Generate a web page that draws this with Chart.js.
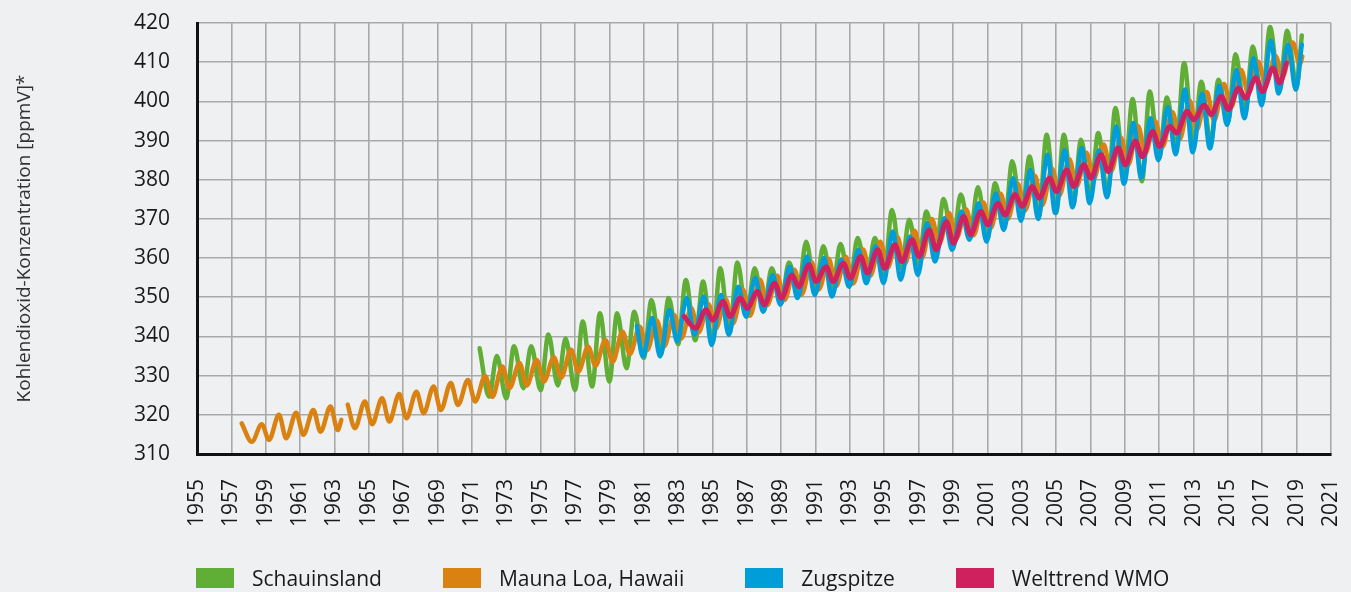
<!DOCTYPE html>
<html lang="de">
  <head>
    <meta charset="UTF-8" />
    <title>Kohlendioxid-Konzentration</title>
    <script src="https://cdn.jsdelivr.net/npm/chart.js@4"></script>
    <style>
      body { margin: 0; background: #eff0f2; }
      .wrap { position: relative; width: 1351px; height: 592px; background: #eff0f2; }
      #co2Chart { position: absolute; left: 0; top: 0; }
      .legend {
        position: absolute; left: 196px; top: 567px;
        display: flex; font: 21px "Open Sans", sans-serif; color: #1a1a1a;
      }
      .legend .item { display: flex; align-items: center; margin-right: 61px; height: 22px; }
      .legend .box { width: 38px; height: 20px; margin-right: 18px; }
    </style>
  </head>
  <body>
    <div class="wrap">
      <canvas id="co2Chart" width="1351" height="592"></canvas>
      <div class="legend" id="legend"></div>
    </div>

    <script>
      // x-axis tick labels (every second year)
      const tickYears = [];
      for (let y = 1955; y <= 2021; y += 2) tickYears.push(y);

      // Schauinsland: seasonal lows / highs per year, first and last reading
      const sYears = [1972,1973,1974,1975,1976,1977,1978,1979,1980,1981,1982,1983,1984,1985,1986,1987,1988,1989,1990,1991,1992,1993,1994,1995,1996,1997,1998,1999,2000,2001,2002,2003,2004,2005,2006,2007,2008,2009,2010,2011,2012,2013,2014,2015,2016,2017,2018,2019];
      const sLow = [324.6,324.2,326.8,326.3,327.5,326.3,327.2,328.5,331.9,334.5,335.5,338.0,339.0,338.5,341.0,345.0,347.0,348.5,351.5,352.0,352.5,353.6,355.0,356.0,357.5,358.5,361.5,364.0,366.0,365.0,368.9,370.6,370.6,371.5,373.6,375.7,376.2,381.3,379.6,385.5,388.0,389.0,389.5,395.0,397.0,400.0,403.0,404.0];
      const sHigh = [335.0,337.5,337.5,340.5,339.5,343.8,345.9,345.9,346.3,349.3,349.8,354.4,354.0,357.4,358.9,357.4,357.4,358.9,364.2,363.0,363.6,365.1,365.1,372.3,369.8,371.9,375.1,376.2,378.1,379.1,384.7,385.9,391.5,391.5,390.2,391.9,398.3,400.6,402.5,401.0,409.8,405.0,405.5,412.0,414.0,419.0,418.0];
      const sFirst = [1971.45, 337.0];
      const sLast = [2019.3, 416.8];

      // Mauna Loa, Hawaii
      const mlYears = [1958,1959,1960,1961,1962,1963,1964,1965,1966,1967,1968,1969,1970,1971,1972,1973,1974,1975,1976,1977,1978,1979,1980,1981,1982,1983,1984,1985,1986,1987,1988,1989,1990,1991,1992,1993,1994,1995,1996,1997,1998,1999,2000,2001,2002,2003,2004,2005,2006,2007,2008,2009,2010,2011,2012,2013,2014,2015,2016,2017,2018,2019];
      const mlLow = [313.1,313.6,314.0,314.9,315.7,316.1,316.6,317.6,318.3,319.1,320.4,321.2,322.5,323.4,324.6,326.8,327.5,328.5,329.5,331.0,332.5,333.5,335.5,336.5,337.5,339.5,341.0,342.0,343.3,345.3,348.0,349.3,350.7,352.0,352.8,353.5,355.5,357.5,358.5,360.0,363.6,365.0,365.8,367.7,370.0,372.2,373.5,376.0,378.3,380.2,382.1,383.7,386.7,388.4,390.3,392.8,395.1,398.5,402.0,404.2,406.4,409.4];
      const mlHigh = [317.6,320.0,320.5,321.2,322.1,322.6,323.4,324.2,325.3,325.9,327.2,328.1,328.9,329.9,332.3,333.2,334.0,334.7,336.6,337.4,339.1,341.2,342.5,344.0,345.5,347.2,348.2,349.5,352.0,354.5,355.5,357.0,359.0,359.8,360.3,362.2,364.2,365.3,367.0,370.0,371.5,372.4,374.2,376.4,379.0,381.0,382.8,385.3,386.9,389.0,390.8,393.7,394.9,397.3,400.2,402.4,404.4,408.0,410.1,411.6,415.0];
      const mlFirst = [1957.6, 317.8];
      const mlLast = [2019.33, 411.5];
      const mlBreak = [[1963.4, 318.7], [1963.55, null]];

      // Zugspitze
      const zYears = [1981,1982,1983,1984,1985,1986,1987,1988,1989,1990,1991,1992,1993,1994,1995,1996,1997,1998,1999,2000,2001,2002,2003,2004,2005,2006,2007,2008,2009,2010,2011,2012,2013,2014,2015,2016,2017,2018,2019];
      const zLow = [334.9,334.9,338.7,340.4,337.8,340.4,345.1,346.3,348.1,349.8,350.6,350.2,352.7,353.6,353.6,354.5,355.7,359.1,362.1,364.7,364.2,367.2,369.5,370.0,371.5,373.0,374.0,375.5,379.0,380.5,385.0,386.5,387.0,388.0,394.0,395.7,399.0,402.0,403.0];
      const zHigh = [344.7,346.8,349.8,350.2,350.6,352.7,354.9,355.7,357.8,360.4,360.0,359.6,362.1,363.0,366.8,365.5,368.9,370.2,371.9,374.0,376.5,380.4,382.5,386.4,387.5,388.1,387.5,393.6,394.5,395.7,398.5,403.0,402.0,404.0,408.0,411.0,415.5,414.5];
      const zFirst = [1980.6, 342.7];
      const zLast = [2019.3, 414.5];

      // Welttrend WMO
      const wYears = [1984,1985,1986,1987,1988,1989,1990,1991,1992,1993,1994,1995,1996,1997,1998,1999,2000,2001,2002,2003,2004,2005,2006,2007,2008,2009,2010,2011,2012,2013,2014,2015,2016,2017,2018];
      const wLow = [342.1,344.2,345.1,347.2,348.1,349.8,352.7,354.0,354.0,354.9,356.2,357.4,359.1,360.4,362.1,363.8,366.0,368.5,371.0,373.2,375.3,377.0,378.3,380.4,382.1,383.8,385.9,388.5,391.9,395.3,396.6,397.9,400.8,402.5,404.7];
      const wHigh = [346.8,348.9,349.8,351.5,353.6,355.7,358.3,357.8,358.7,360.4,362.1,363.4,364.7,367.2,369.3,370.6,371.9,374.0,376.2,378.3,380.4,382.5,383.8,386.4,388.1,389.8,392.3,393.6,397.4,399.1,401.3,403.4,406.0,408.5];
      const wFirst = [1983.35, 345.1];
      const wLast = [2018.4, 409.8];

      // time of year of the seasonal low / high for each station
      const phase = {
        s: [0.0, 0.45],
        ml: [0.19, 0.77],
        z: [-0.05, 0.5],
        w: [0.02, 0.62],
      };

      function seasonal(years, lows, highs, ph, first, last, extra = []) {
        const pts = [{ x: first[0], y: first[1] }];
        years.forEach((yr, i) => {
          pts.push({ x: yr + ph[0], y: lows[i] });
          if (i < highs.length) pts.push({ x: yr + ph[1], y: highs[i] });
        });
        extra.forEach((p) => pts.push({ x: p[0], y: p[1] }));
        pts.push({ x: last[0], y: last[1] });
        return pts.sort((a, b) => a.x - b.x);
      }

      const series = [
        { label: "Schauinsland", color: "#60ae36", width: 4.5, order: 4,
          data: seasonal(sYears, sLow, sHigh, phase.s, sFirst, sLast) },
        { label: "Mauna Loa, Hawaii", color: "#d98211", width: 4.5, order: 3,
          data: seasonal(mlYears, mlLow, mlHigh, phase.ml, mlFirst, mlLast, mlBreak) },
        { label: "Zugspitze", color: "#009ed8", width: 4.5, order: 2,
          data: seasonal(zYears, zLow, zHigh, phase.z, zFirst, zLast) },
        { label: "Welttrend WMO", color: "#d0215f", width: 5, order: 1,
          data: seasonal(wYears, wLow, wHigh, phase.w, wFirst, wLast) },
      ];

      const font = "'Open Sans', sans-serif";
      const gridStyle = { color: "#a9a9a9", lineWidth: 1.6, drawTicks: false };

      new Chart(document.getElementById("co2Chart"), {
        type: "line",
        data: {
          datasets: series.map((s) => ({
            label: s.label,
            data: s.data,
            borderColor: s.color,
            backgroundColor: s.color,
            borderWidth: s.width,
            order: s.order,
            pointRadius: 0,
            fill: false,
            spanGaps: false,
            cubicInterpolationMode: "monotone",
            borderJoinStyle: "round",
            borderCapStyle: "round",
          })),
        },
        options: {
          responsive: false,
          animation: false,
          layout: { padding: { left: 5, right: 20, top: 23, bottom: 0 } },
          plugins: { legend: { display: false }, tooltip: { enabled: false } },
          scales: {
            x: {
              type: "linear",
              min: 1955,
              max: 2021,
              afterBuildTicks: (scale) => {
                scale.ticks = tickYears.map((v) => ({ value: v }));
              },
              afterFit: (scale) => {
                scale.height = 138;
                scale.paddingLeft = 0;
                scale.paddingRight = 0;
              },
              ticks: {
                autoSkip: false,
                minRotation: 90,
                maxRotation: 90,
                padding: 25,
                color: "#1a1a1a",
                font: { family: font, size: 21 },
                callback: (v) => String(v),
              },
              grid: gridStyle,
              border: { color: "#111", width: 3 },
            },
            y: {
              min: 310,
              max: 420,
              afterFit: (scale) => {
                scale.width = 192;
                scale.paddingTop = 0;
                scale.paddingBottom = 0;
              },
              ticks: {
                stepSize: 10,
                padding: 27,
                color: "#1a1a1a",
                font: { family: font, size: 21 },
              },
              grid: gridStyle,
              border: { color: "#111", width: 3 },
              title: {
                display: true,
                text: "Kohlendioxid-Konzentration [ppmV]*",
                color: "#333",
                font: { family: font, size: 19 },
                padding: { top: 8, bottom: 0 },
              },
            },
          },
        },
      });

      // legend below the chart
      const legend = document.getElementById("legend");
      series.forEach((s) => {
        const item = document.createElement("div");
        item.className = "item";
        item.innerHTML = `<span class="box" style="background:${s.color}"></span><span>${s.label}</span>`;
        legend.appendChild(item);
      });
    </script>
  </body>
</html>
